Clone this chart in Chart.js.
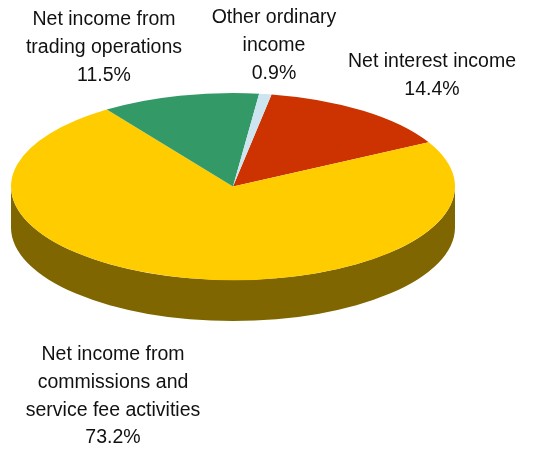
<!DOCTYPE html>
<html lang="en">
  <head>
    <meta charset="UTF-8" />
    <title>Operating income breakdown</title>
    <script src="https://cdn.jsdelivr.net/npm/chart.js@4.4.1/dist/chart.umd.min.js"></script>
    <style>
      body {
        margin: 0;
        background-color: #ffffff;
      }
    </style>
  </head>
  <body>
    <canvas id="incomeChart" width="559" height="452"></canvas>

    <script>
      // Slices, clockwise from the top of the pie
      const labels = [
        ["Net interest income"],
        ["Net income from", "commissions and", "service fee activities"],
        ["Net income from", "trading operations"],
        ["Other ordinary", "income"],
      ];
      const shares = [14.4, 73.2, 11.5, 0.9];
      const topColors = ["#CC3300", "#FFCC00", "#339966", "#CCE5F1"];
      const sideColors = ["#661A00", "#7F6600", "#1A4D33", "#667379"];

      // where each label block sits (centre of first line)
      const labelAnchors = [
        [432, 62],
        [113, 355],
        [104, 20],
        [274, 18],
      ];
      const lineHeight = 27.7;

      // flatten the round pie into an ellipse and give it some thickness
      const tilt = 93.5 / 222;
      const depth = 41;
      const faceCenterY = 186.5;

      function applyTilt(ctx, cx, cy) {
        ctx.translate(cx, faceCenterY);
        ctx.scale(1, tilt);
        ctx.translate(-cx, -cy);
      }

      const pie3d = {
        id: "pie3d",
        beforeDatasetsDraw(chart) {
          const ctx = chart.ctx;
          const arcs = chart.getDatasetMeta(0).data;
          const { x, y } = arcs[0];

          // side wall: only the front half of the rim (0..PI) is visible
          arcs.forEach((arc, i) => {
            const p = arc.getProps(["x", "startAngle", "endAngle", "outerRadius"]);
            const ry = p.outerRadius * tilt;
            for (let k = -2; k <= 2; k++) {
              const a = Math.max(p.startAngle, k * 2 * Math.PI);
              const b = Math.min(p.endAngle, k * 2 * Math.PI + Math.PI);
              if (b <= a) continue;
              ctx.beginPath();
              ctx.ellipse(p.x, faceCenterY, p.outerRadius, ry, 0, a, b);
              ctx.ellipse(p.x, faceCenterY + depth, p.outerRadius, ry, 0, b, a, true);
              ctx.closePath();
              ctx.fillStyle = sideColors[i];
              ctx.fill();
            }
          });

          // top face is drawn by Chart.js inside the tilted space
          ctx.save();
          applyTilt(ctx, x, y);
        },
        afterDatasetsDraw(chart) {
          chart.ctx.restore();
        },
        afterDraw(chart) {
          const ctx = chart.ctx;
          ctx.save();
          ctx.font = '19.5px "Liberation Sans", Arial, sans-serif';
          ctx.fillStyle = "#111111";
          ctx.textAlign = "center";
          ctx.textBaseline = "middle";
          labels.forEach((lines, i) => {
            const [lx, ly] = labelAnchors[i];
            const text = lines.concat(shares[i].toFixed(1) + "%");
            text.forEach((t, k) => ctx.fillText(t, lx, ly + k * lineHeight));
          });
          ctx.restore();
        },
      };

      new Chart(document.getElementById("incomeChart"), {
        type: "pie",
        data: {
          labels: labels,
          datasets: [
            {
              data: shares,
              backgroundColor: topColors,
              borderWidth: 0,
              hoverOffset: 0,
            },
          ],
        },
        options: {
          responsive: false,
          animation: false,
          events: [],
          rotation: 10,
          layout: {
            padding: { left: 11, right: 104, top: 0, bottom: 8 },
          },
          plugins: {
            legend: { display: false },
            tooltip: { enabled: false },
          },
        },
        plugins: [pie3d],
      });
    </script>
  </body>
</html>
